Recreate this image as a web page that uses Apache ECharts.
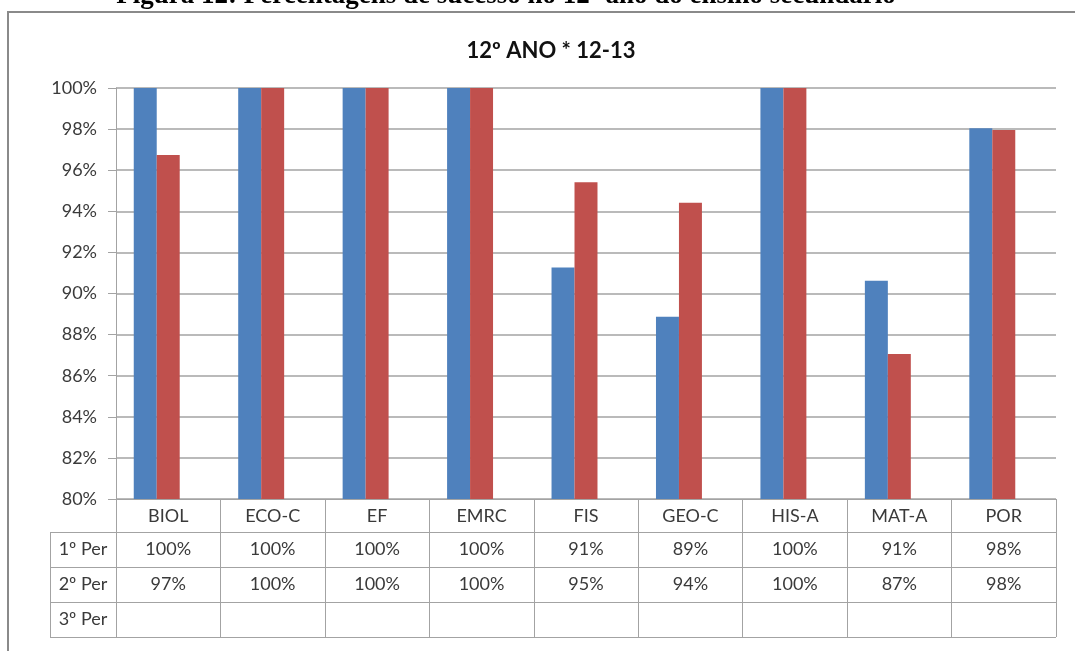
<!DOCTYPE html>
<html>
<head>
<meta charset="utf-8">
<script src="https://cdn.jsdelivr.net/npm/echarts@6/dist/echarts.min.js"></script>
<style>
  html, body { margin: 0; padding: 0; background: #ffffff; }
  #main { width: 1075px; height: 651px; }
</style>
</head>
<body>
<div id="main"></div>
<script>
// Success rates per subject, 12th grade, school year 12-13
const categories = ['BIOL', 'ECO-C', 'EF', 'EMRC', 'FIS', 'GEO-C', 'HIS-A', 'MAT-A', 'POR'];
const seriesNames = ['1º Per', '2º Per', '3º Per'];
const per1 = [100, 100, 100, 100, 91.26, 88.87, 100, 90.62, 98.04];
const per2 = [96.74, 100, 100, 100, 95.41, 94.42, 100, 87.06, 97.96];
const per3 = [null, null, null, null, null, null, null, null, null];
const yMin = 80, yMax = 100, yStep = 2;
const chartTitle = '12º ANO * 12-13';
const caption = 'Figura 12: Percentagens de sucesso no 12º ano do ensino secundário';

const seriesData = [per1, per2, per3];
const colors = ['#4F81BD', '#C0504D', '#9BBB59'];
const lineGray = '#a3a3a3';
const textColor = '#3a3a3a';
const font = 'Lato, "Open Sans", sans-serif';
const fontSize = 18;

const chart = echarts.init(document.getElementById('main'));

chart.setOption({
  animation: false,
  backgroundColor: '#ffffff',
  title: {
    text: chartTitle,
    left: 546,
    textAlign: 'center',
    top: 35,
    textStyle: { fontFamily: font, fontSize: 22, fontWeight: 'bold', color: '#111111' }
  },
  grid: { left: 116, right: 19, top: 88, bottom: 152, containLabel: false },
  xAxis: {
    type: 'category',
    data: categories,
    boundaryGap: true,
    axisLine: { show: true, lineStyle: { color: lineGray, width: 1 } },
    axisTick: { show: true, length: 138, lineStyle: { color: lineGray, width: 1 } },
    axisLabel: { fontFamily: font, fontSize: fontSize, color: textColor, margin: 8 }
  },
  yAxis: {
    type: 'value',
    min: yMin,
    max: yMax,
    interval: yStep,
    axisLine: { show: true, lineStyle: { color: lineGray, width: 1 } },
    axisTick: { show: true, length: 8, lineStyle: { color: lineGray } },
    axisLabel: { fontFamily: font, fontSize: fontSize, color: textColor, margin: 19,
                 formatter: v => v + '%' },
    splitLine: { show: true, lineStyle: { color: lineGray, width: 1.5 } }
  },
  series: seriesNames.map((name, i) => ({
    name: name,
    type: 'bar',
    data: seriesData[i],
    barWidth: '22%',
    barGap: '0%',
    itemStyle: { color: colors[i] }
  }))
});

// Data table below the plot: one row per period, one column per subject
function buildTable() {
  const c0 = chart.convertToPixel({ xAxisIndex: 0 }, categories[0]);
  const c1 = chart.convertToPixel({ xAxisIndex: 0 }, categories[1]);
  const half = (c1 - c0) / 2;
  const plotLeft = c0 - half;
  const plotRight = chart.convertToPixel({ xAxisIndex: 0 }, categories[categories.length - 1]) + half;
  const axisY = chart.convertToPixel({ yAxisIndex: 0 }, yMin);
  const headerH = 33, rowH = 35, labelLeft = 50;
  const els = [];

  // outer frame of the figure
  els.push({ type: 'rect', z: 0, shape: { x: 8, y: 12, width: 1100, height: 700 },
             style: { fill: 'none', stroke: '#8a8a8a', lineWidth: 2 } });
  // caption sitting above the frame
  els.push({ type: 'text', x: 506, y: 10, z: 5,
             style: { text: caption, font: 'bold 27px "Liberation Serif", serif',
                      fill: '#000000', align: 'center', verticalAlign: 'bottom' } });

  const rowTop = r => axisY + headerH + r * rowH;
  for (let r = 0; r <= seriesNames.length; r++) {
    const y = Math.round(rowTop(r)) + 0.5;
    els.push({ type: 'line', z: 10, shape: { x1: labelLeft, y1: y, x2: plotRight, y2: y },
               style: { stroke: lineGray, lineWidth: 1 } });
  }
  els.push({ type: 'line', z: 10,
             shape: { x1: labelLeft + 0.5, y1: rowTop(0), x2: labelLeft + 0.5, y2: rowTop(seriesNames.length) },
             style: { stroke: lineGray, lineWidth: 1 } });

  seriesNames.forEach((name, r) => {
    const cy = rowTop(r) + rowH / 2;
    els.push({ type: 'text', x: (labelLeft + plotLeft) / 2, y: cy, z: 11,
               style: { text: name, font: fontSize + 'px ' + font, fill: textColor,
                        align: 'center', verticalAlign: 'middle' } });
    seriesData[r].forEach((v, i) => {
      if (v == null) return;
      const cx = chart.convertToPixel({ xAxisIndex: 0 }, categories[i]);
      els.push({ type: 'text', x: cx, y: cy, z: 11,
                 style: { text: Math.round(v) + '%', font: fontSize + 'px ' + font, fill: textColor,
                          align: 'center', verticalAlign: 'middle' } });
    });
  });

  chart.setOption({ graphic: els });
}
buildTable();
</script>
</body>
</html>
